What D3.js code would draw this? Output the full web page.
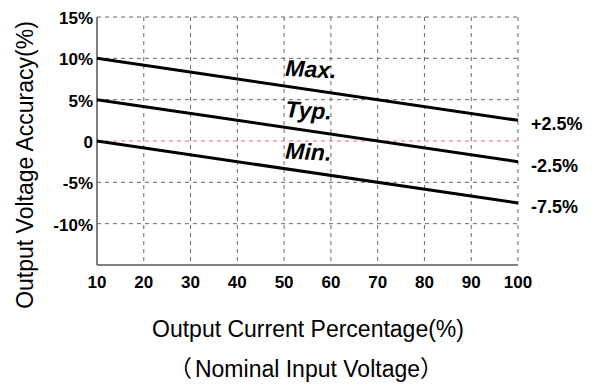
<!DOCTYPE html>
<html>
<head>
<meta charset="utf-8">
<script src="https://cdn.jsdelivr.net/npm/d3@7"></script>
<style>
  body { margin: 0; background: #fff; }
  svg { font-family: "Liberation Sans", Arial, "Noto Sans CJK SC", sans-serif; }
</style>
</head>
<body>
<div id="chart"></div>
<script>
// load percentage (%)
const xTicks = [10, 20, 30, 40, 50, 60, 70, 80, 90, 100];
// accuracy ticks (%)
const yTicks = [15, 10, 5, 0, -5, -10];
const yTickLabels = ["15%", "10%", "5%", "0", "-5%", "-10%"];
// curves: value at 10% load and at 100% load
const curveNames = ["Max.", "Typ.", "Min."];
const curveStart = [10, 5, 0];
const curveEnd = [2.5, -2.5, -7.5];
const endLabels = ["+2.5%", "-2.5%", "-7.5%"];

var width = 597,
	height = 385;
const margin = { top: 17, right: 79, bottom: 120, left: 97 };

var svg = d3
	.select("#chart")
	.append("svg")
	.attr("width", width)
	.attr("height", height);

var x = d3.scaleLinear().domain([10, 100]).range([margin.left, width - margin.right]);
var y = d3.scaleLinear().domain([-15, 15]).range([height - margin.bottom, margin.top]);

// value of curve i at load v
function valueAt(i, v) {
	return curveStart[i] + ((curveEnd[i] - curveStart[i]) * (v - 10)) / 90;
}

// grid
svg.append("g")
	.selectAll("line")
	.data(xTicks.slice(1))
	.join("line")
	.attr("x1", (d) => x(d))
	.attr("x2", (d) => x(d))
	.attr("y1", y(15))
	.attr("y2", y(-15))
	.attr("stroke", "#666")
	.attr("stroke-width", 1)
	.attr("stroke-dasharray", "4,4");

svg.append("g")
	.selectAll("line")
	.data(yTicks)
	.join("line")
	.attr("x1", x(10))
	.attr("x2", x(100))
	.attr("y1", (d) => y(d))
	.attr("y2", (d) => y(d))
	.attr("stroke", (d) => (d === 0 ? "#e07080" : "#666"))
	.attr("stroke-width", 1)
	.attr("stroke-dasharray", "4,4");

// axes lines
svg.append("line")
	.attr("x1", x(10)).attr("x2", x(10))
	.attr("y1", y(15)).attr("y2", y(-15))
	.attr("stroke", "#555").attr("stroke-width", 1.5);
svg.append("line")
	.attr("x1", x(10)).attr("x2", x(100))
	.attr("y1", y(-15)).attr("y2", y(-15))
	.attr("stroke", "#555").attr("stroke-width", 1.5);

// tick labels
svg.append("g")
	.selectAll("text")
	.data(yTicks)
	.join("text")
	.attr("x", x(10) - 4)
	.attr("y", (d) => y(d) + 7)
	.attr("text-anchor", "end")
	.style("font-size", "17px")
	.style("font-weight", "bold")
	.text((d, i) => yTickLabels[i]);

svg.append("g")
	.selectAll("text")
	.data(xTicks)
	.join("text")
	.attr("x", (d) => x(d))
	.attr("y", y(-15) + 23)
	.attr("text-anchor", "middle")
	.style("font-size", "17px")
	.style("font-weight", "bold")
	.text((d) => d);

// curves
const line = d3.line().x((d) => x(d[0])).y((d) => y(d[1]));
curveNames.forEach((name, i) => {
	svg.append("path")
		.attr("d", line([[10, curveStart[i]], [100, curveEnd[i]]]))
		.attr("fill", "none")
		.attr("stroke", "#000")
		.attr("stroke-width", 3);

	const lx = x(50) + 1,
		ly = y(valueAt(i, 60)) - 17;
	svg.append("text")
		.attr("x", lx)
		.attr("y", ly)
		.attr("transform", `rotate(3,${lx},${ly})`)
		.style("font-size", "23px")
		.style("font-weight", "bold")
		.style("font-style", "italic")
		.text(name);

	svg.append("text")
		.attr("x", x(100) + 13)
		.attr("y", y(curveEnd[i]) + 10)
		.style("font-size", "18px")
		.style("font-weight", "bold")
		.text(endLabels[i]);
});

// axis titles
svg.append("text")
	.attr("transform", `translate(33,165) rotate(-90)`)
	.attr("text-anchor", "middle")
	.style("font-size", "23px")
	.text("Output Voltage Accuracy(%)");

svg.append("text")
	.attr("x", 308)
	.attr("y", 337)
	.attr("text-anchor", "middle")
	.style("font-size", "23px")
	.text("Output Current Percentage(%)");

const sub = svg.append("text")
	.attr("x", 306)
	.attr("y", 377)
	.attr("text-anchor", "middle")
	.style("font-size", "23px");
sub.append("tspan").text("（");
sub.append("tspan").attr("dx", 3).text("Nominal Input Voltage");
sub.append("tspan").text("）");
</script>
</body>
</html>
